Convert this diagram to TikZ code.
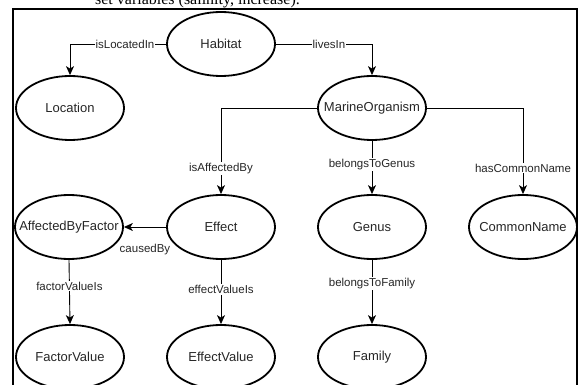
\documentclass[tikz,border=0pt]{standalone}
\usepackage{fontspec}
\setmainfont{Liberation Sans}
\newfontfamily\topserif{Liberation Serif}
\usetikzlibrary{arrows.meta,shapes.geometric}
\newcommand{\zw}[1]{\makebox[0pt]{#1}}
\begin{document}
\begin{tikzpicture}[x=1pt,y=-1pt,
  ent/.style={ellipse,draw,line width=1.8pt,minimum width=108pt,minimum height=64pt,inner sep=0pt,font=\fontsize{13}{15}\selectfont,text=black!85},
  conn/.style={line width=0.9pt,-{Stealth[length=9pt,width=8pt,inset=2.5pt]}},
  lbl/.style={fill=white,inner sep=1pt,font=\fontsize{11.5}{13}\selectfont,text=black!85},
  frame/.style={line width=2pt}
]
\useasboundingbox (0,0) rectangle (579,385);
\node[anchor=base east,inner sep=0pt,font=\topserif\fontsize{16}{18}\selectfont] (toptext) at (300,5) {set variables (salinity, increase).};
\draw[frame] (13,9) rectangle (577,420);

\node[ent] (hab) at (221,44) {\zw{Habitat}};
\node[ent] (loc) at (70,108) {\zw{Location}};
\node[ent] (mo) at (372,108) {\zw{MarineOrganism}};
\node[ent] (abf) at (69,227) {\zw{AffectedByFactor}};
\node[ent] (eff) at (221,227) {\zw{Effect}};
\node[ent] (gen) at (372,227) {\zw{Genus}};
\node[ent] (cn) at (523,227) {\zw{CommonName}};
\node[ent] (fv) at (70,357) {\zw{FactorValue}};
\node[ent] (ev) at (221,357) {\zw{EffectValue}};
\node[ent] (fam) at (372,357) {\zw{Family}};

\draw[conn] (hab.west) -| node[lbl,pos=0.214] {isLocatedIn} (loc.north);
\draw[conn] (hab.east) -| node[lbl,pos=0.276] {livesIn} (mo.north);
\draw[conn] (mo.west) -| node[lbl,pos=0.85] {isAffectedBy} (eff.north);
\draw[conn] (mo.east) -| node[lbl,pos=0.85] {hasCommonName} (cn.north);
\draw[conn] (mo.south) -- node[lbl,pos=0.44] {belongsToGenus} (gen.north);
\draw[conn] (eff.west) -- node[lbl,fill=none,pos=0.5,yshift=-23pt] {causedBy} (abf.east);
\draw[conn] (abf.south) -- node[lbl,pos=0.41] {factorValueIs} (fv.north);
\draw[conn] (eff.south) -- node[lbl,pos=0.46] {effectValueIs} (ev.north);
\draw[conn] (gen.south) -- node[lbl,pos=0.37] {belongsToFamily} (fam.north);
\end{tikzpicture}
\end{document}
